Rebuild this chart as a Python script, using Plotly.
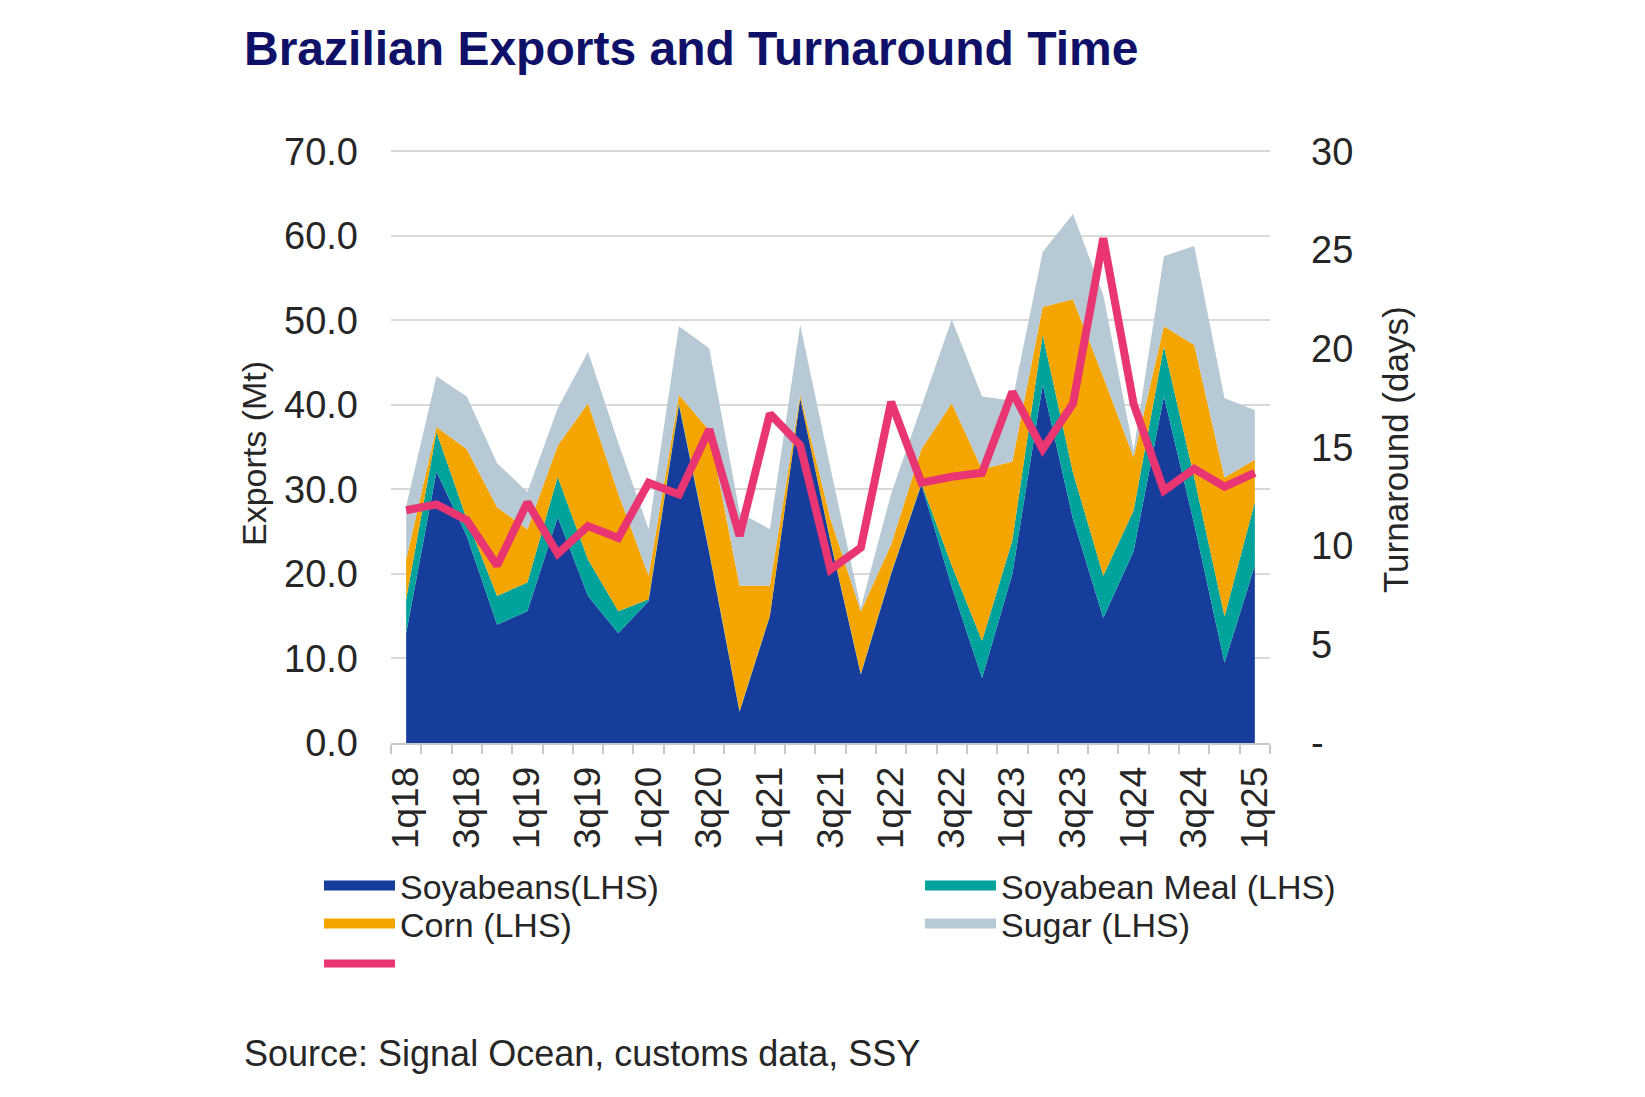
import plotly.graph_objects as go

# ---------------- data ----------------
quarters = ["1q18", "2q18", "3q18", "4q18", "1q19", "2q19", "3q19", "4q19",
            "1q20", "2q20", "3q20", "4q20", "1q21", "2q21", "3q21", "4q21",
            "1q22", "2q22", "3q22", "4q22", "1q23", "2q23", "3q23", "4q23",
            "1q24", "2q24", "3q24", "4q24", "1q25"]

soyabeans = [13.0, 32.1, 24.5, 14.0, 15.6, 26.7, 17.4, 13.0, 16.8, 40.0, 22.5, 3.7,
             15.0, 40.8, 23.8, 8.1, 20.0, 30.6, 18.5, 7.7, 20.0, 42.4, 26.5, 14.8,
             22.7, 41.0, 25.9, 9.5, 21.0]
soyabean_meal = [4.0, 4.7, 2.0, 3.4, 3.4, 4.8, 4.3, 2.6, 0.2, 0.2, 0.2, 0.1,
                 0.1, 0.0, 0.1, 0.1, 0.1, 0.1, 2.5, 4.4, 4.0, 5.9, 5.5, 5.0,
                 4.8, 5.9, 5.5, 5.5, 7.5]
corn = [4.7, 0.6, 8.3, 10.5, 6.3, 3.7, 18.5, 13.9, 2.8, 1.0, 14.3, 14.8,
        3.5, 0.4, 2.6, 7.4, 3.4, 4.1, 19.2, 20.3, 9.3, 3.3, 20.5, 23.5,
        6.3, 2.4, 15.7, 16.4, 5.0]
sugar = [6.3, 6.0, 6.2, 5.2, 4.4, 4.4, 6.1, 6.0, 5.5, 8.1, 9.7, 8.7,
         6.7, 8.3, 6.0, 0.4, 6.0, 5.0, 9.9, 8.6, 7.2, 6.5, 10.1, 9.7,
         0.8, 8.3, 11.7, 9.4, 5.9]
turnaround_days = [11.8, 12.1, 11.3, 9.0, 12.2, 9.6, 11.0, 10.4, 13.2, 12.6, 15.9, 10.5,
                   16.7, 15.1, 8.8, 9.9, 17.3, 13.2, 13.5, 13.7, 17.8, 14.9, 17.2, 25.6,
                   17.2, 12.8, 13.9, 13.0, 13.7]

series_names = ["Soyabeans(LHS)", "Soyabean Meal (LHS)", "Corn (LHS)", "Sugar (LHS)"]
left_ticks = [0, 10, 20, 30, 40, 50, 60, 70]
right_ticks = [0, 5, 10, 15, 20, 25, 30]
right_ticktext = ["-", "5", "10", "15", "20", "25", "30"]
x_ticktext = [q if i % 2 == 0 else "" for i, q in enumerate(quarters)]

# ---------------- styles ----------------
FONT = "Liberation Sans, Arial, sans-serif"
TXT = "#262626"
colors = ["#173d9c", "#00a39b", "#f5a500", "#b6c9d4"]
pink = "#e93572"

LEFT_MAX = 70.4                      # slightly above 70 so the top gridline shows
RIGHT_MAX = 30 * LEFT_MAX / 70

fig = go.Figure()
stack_series = [soyabeans, soyabean_meal, corn, sugar]
for name, vals, col in zip(series_names, stack_series, colors):
    fig.add_trace(go.Scatter(
        x=quarters, y=vals, name=name, mode="lines", stackgroup="exports",
        line=dict(width=0, color=col), fillcolor=col, showlegend=False,
    ))

fig.add_trace(go.Scatter(
    x=quarters, y=turnaround_days, name="", mode="lines", yaxis="y2",
    line=dict(color=pink, width=8), legend="legend5",
))

# legend swatches (legend-only entries)
legend_ids = ["legend", "legend2", "legend3", "legend4"]
for name, col, lg in zip(series_names, colors, legend_ids):
    fig.add_trace(go.Scatter(
        x=[None], y=[None], name=name, mode="lines",
        line=dict(color=col, width=21), legend=lg, hoverinfo="skip",
    ))

L, R, T, B = 383, 383, 140, 362
W, H = 1645, 1097
pw, ph = W - L - R, H - T - B


def px_x(x):
    return (x - L) / pw


def px_y(y):
    return (H - B - y) / ph


def legend_cfg(xpx, ypx):
    return dict(x=px_x(xpx), y=px_y(ypx), xanchor="left", yanchor="middle",
                orientation="h", itemwidth=71, bgcolor="rgba(0,0,0,0)",
                font=dict(family=FONT, size=34, color=TXT), traceorder="normal")


fig.update_layout(
    width=W, height=H,
    margin=dict(l=L, r=R, t=T, b=B, autoexpand=False),
    paper_bgcolor="white", plot_bgcolor="white",
    font=dict(family=FONT, size=36, color=TXT),
    xaxis=dict(
        type="category", range=[-0.5, len(quarters) - 0.5],
        tickmode="array", tickvals=quarters, ticktext=x_ticktext,
        tickson="boundaries", ticks="outside", ticklen=9, tickwidth=2,
        tickcolor="#c8c8c8", showline=True, linecolor="#c8c8c8", linewidth=2,
        showgrid=False, tickangle=-90, ticklabelstandoff=7,
        tickfont=dict(family=FONT, size=37, color=TXT),
    ),
    yaxis=dict(
        range=[0, LEFT_MAX], tickvals=left_ticks, tickformat=".1f",
        showgrid=True, gridcolor="#d9d9d9", gridwidth=2, zeroline=False,
        showline=False, ticks="", ticklabelstandoff=32,
        tickfont=dict(family=FONT, size=38, color=TXT),
    ),
    yaxis2=dict(
        range=[0, RIGHT_MAX], overlaying="y", side="right",
        tickmode="array", tickvals=right_ticks, ticktext=right_ticktext,
        showgrid=False, zeroline=False, showline=False, ticks="",
        ticklabelstandoff=40,
        tickfont=dict(family=FONT, size=38, color=TXT),
    ),
    legend=legend_cfg(311, 878),
    legend2=legend_cfg(912, 878),
    legend3=legend_cfg(311, 916),
    legend4=legend_cfg(912, 916),
    legend5=legend_cfg(311, 956),
    annotations=[
        dict(text="Brazilian Exports and Turnaround Time", xref="paper", yref="paper",
             x=px_x(234), y=px_y(41), xanchor="left", yanchor="middle", showarrow=False,
             font=dict(family=FONT, size=48, color="#0f1068", weight="bold")),
        dict(text="Exports (Mt)", xref="paper", yref="paper", x=px_x(246), y=px_y(446),
             xanchor="center", yanchor="middle", textangle=-90, showarrow=False,
             font=dict(family=FONT, size=34, color=TXT)),
        dict(text="Turnaround (days)", xref="paper", yref="paper", x=px_x(1387), y=px_y(442),
             xanchor="center", yanchor="middle", textangle=-90, showarrow=False,
             font=dict(family=FONT, size=35, color=TXT)),
        dict(text="Source: Signal Ocean, customs data, SSY", xref="paper", yref="paper",
             x=px_x(234), y=px_y(1045), xanchor="left", yanchor="middle", showarrow=False,
             font=dict(family=FONT, size=36, color=TXT)),
    ],
)

fig.write_html("out.html")
